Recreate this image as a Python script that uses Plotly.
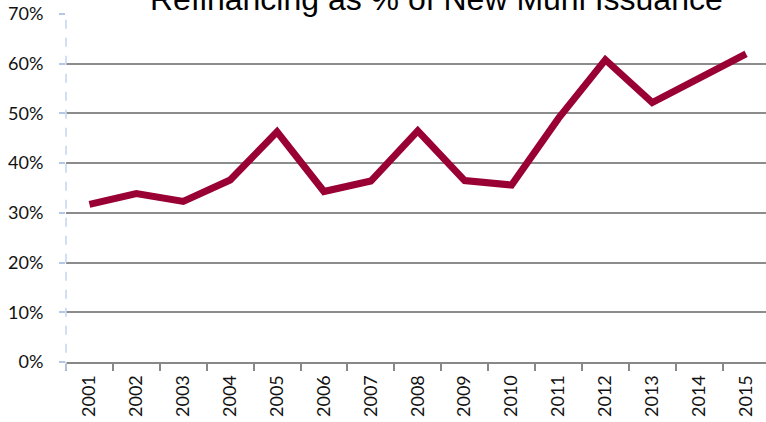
import plotly.graph_objects as go

years = ["2001", "2002", "2003", "2004", "2005", "2006", "2007", "2008",
         "2009", "2010", "2011", "2012", "2013", "2014", "2015"]
refi_share = [0.317, 0.339, 0.323, 0.366, 0.463, 0.343, 0.364, 0.465,
              0.365, 0.356, 0.490, 0.608, 0.522, 0.572, 0.620]
y_ticks = [0, 0.1, 0.2, 0.3, 0.4, 0.5, 0.6, 0.7]
title_text = "Refinancing as % of New Muni Issuance"

fig = go.Figure()
fig.add_trace(go.Scatter(
    x=years, y=refi_share, mode="lines",
    line=dict(color="#990033", width=7),
    hoverinfo="skip", showlegend=False,
))

fig.update_layout(
    width=766, height=422,
    margin=dict(l=66, r=0, t=14, b=60),
    paper_bgcolor="white", plot_bgcolor="white",
    font=dict(family="Lato", size=18, color="#111111"),
    showlegend=False,
)
fig.update_xaxes(
    type="category", range=[-0.5, 14.425],
    tickson="boundaries", ticks="outside", ticklen=7, tickwidth=1.5,
    tickcolor="#888888", showline=True, linecolor="#888888", linewidth=2,
    showgrid=False, tickangle=-90, ticklabelstandoff=4,
    tickfont=dict(family="Lato", size=18, color="#111111"),
)
fig.update_yaxes(
    range=[0, 0.7], tickvals=y_ticks, tickformat=".0%",
    showgrid=True, gridcolor="#8c8c8c", gridwidth=1.5,
    zeroline=False, ticks="outside", ticklen=6, tickcolor="#b4c7e7", tickwidth=1.5,
    showline=False, ticklabelstandoff=12,
    tickfont=dict(family="Lato", size=18, color="#111111"),
)
fig.add_shape(type="line", xref="paper", yref="paper", x0=0, x1=0, y0=-0.025, y1=1,
              line=dict(color="#c3d3ee", width=1.5, dash="dash"), layer="above")
fig.add_annotation(
    text=title_text, xref="paper", yref="paper", x=0.5286, y=1,
    xanchor="center", yanchor="bottom", yshift=-5, showarrow=False,
    font=dict(family="Liberation Sans", size=32, color="black"),
)
fig.write_html("out.html", config={"displayModeBar": False},
               post_script="document.body.style.margin='0';document.body.style.overflow='hidden';")
